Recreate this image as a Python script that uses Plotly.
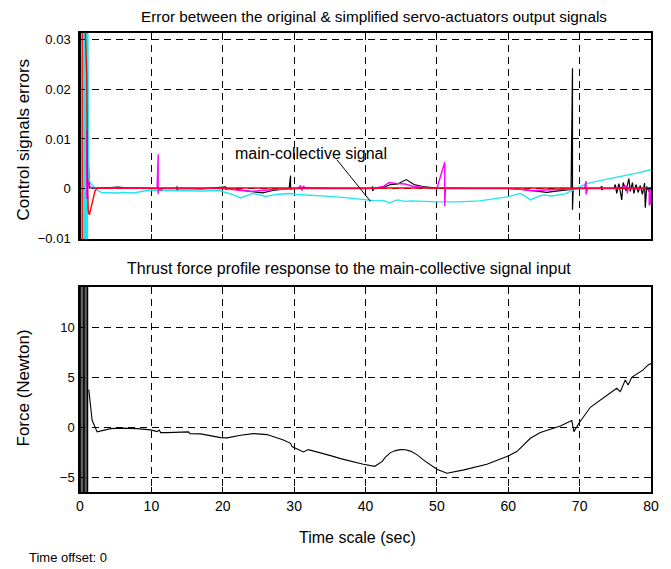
import plotly.graph_objects as go
from plotly.subplots import make_subplots

# ---------------- data ----------------
# top panel: error signals
cyan_t = [0.45, 0.45, 0.6, 0.6, 0.75, 0.75, 0.9, 0.9, 1.05, 1.05, 1.2, 1.35, 1.6, 2.0, 2.5, 3.0, 4.0, 5.0, 6.0,
          7.5, 9.0, 10.0, 12.0, 14.0, 17.0, 19.5, 20.7, 21.5, 22.5, 23.3, 24.2, 25.2, 26.0, 27.5, 29.3, 30.5,
          32.0, 35.0, 37.5, 40.2, 41.5, 42.5, 43.3, 44.5, 45.5, 46.5, 48.0, 50.0, 53.0, 56.0, 59.8, 61.0,
          61.7, 62.4, 63.1, 64.0, 64.9, 66.0, 66.8, 68.0, 69.1, 70.0, 71.0, 72.5, 74.7, 76.0, 78.0, 80.0]
cyan_v = [-0.02, 0.05, -0.02, 0.05, -0.02, 0.05, -0.02, 0.05, -0.02, 0.05, 0.0025, 0.0015, 0.0008, 0.0002,
          -0.0004, -0.0008, -0.0009, -0.0009, -0.0008, -0.0009, -0.0005, -0.0003, -0.0004, -0.0005, -0.0005,
          -0.0004, -0.0009, -0.0013, -0.0019, -0.0015, -0.0010, -0.0013, -0.0016, -0.0012, -0.0010, -0.0012,
          -0.0013, -0.0016, -0.0019, -0.0023, -0.0025, -0.0024, -0.0029, -0.0023, -0.0026, -0.0025, -0.0026,
          -0.0027, -0.0027, -0.0025, -0.0017, -0.0013, -0.0010, -0.0016, -0.0023, -0.0017, -0.0013, -0.0015,
          -0.0013, -0.0011, -0.0003, 0.0003, 0.0010, 0.0015, 0.0021, 0.0026, 0.0031, 0.0038]

black_t = [0.05, 0.05, 0.15, 0.15, 1.3, 3.0, 5.3, 7.0, 10.0, 13.5, 13.6, 13.6, 13.7, 17.0, 20.4, 20.5, 20.6,
           22.0, 24.0, 25.6, 27.0, 29.3, 29.5, 29.5, 29.7, 32.0, 36.0, 40.8, 41.0, 41.0, 41.2, 42.5, 43.5,
           44.5, 45.7, 46.8, 48.0, 50.0, 55.0, 60.0, 62.0, 63.5, 65.4, 67.0, 68.8, 69.0, 69.0, 69.1, 69.3,
           72.9, 73.1, 73.1, 73.3, 74.8, 75.0, 75.2, 75.5, 75.9, 76.1, 76.5, 76.9, 77.1, 77.4, 77.6, 77.9,
           78.2, 78.5, 78.8, 79.1, 79.2, 79.4, 79.7, 80.0]
black_v = [-0.02, 0.05, -0.02, 0.05, 0.0001, 0.0001, 0.0003, 0.0001, 0.0, 0.0, 0.0004, -0.0005, 0.0, -0.0001,
           0.0003, -0.0003, 0.0, -0.0002, -0.0006, -0.0009, -0.0004, 0.0, 0.0026, -0.0002, 0.0, 0.0001, 0.0,
           0.0, 0.0004, -0.0005, 0.0, 0.0002, 0.0008, 0.0009, 0.0018, 0.0008, 0.0004, 0.0001, 0.0, 0.0,
           -0.0002, -0.0004, -0.0008, -0.0005, -0.0002, 0.0243, -0.0043, 0.0, 0.0, 0.0, 0.0005, -0.0003, 0.0,
           0.0, 0.0008, -0.0010, 0.0010, -0.0023, 0.0012, -0.0005, 0.0020, -0.0006, 0.0012, -0.0010, 0.0008,
           -0.0008, 0.0006, -0.0012, 0.0011, -0.0039, 0.0004, -0.0006, 0.0003]

mag_t = [0.95, 0.95, 1.1, 1.3, 1.6, 2.5, 5.0, 10.8, 10.95, 10.95, 11.05, 11.4, 11.6, 11.8, 15.0, 20.0, 22.0,
         24.0, 27.0, 30.6, 30.9, 31.1, 31.3, 31.6, 35.0, 41.0, 42.5, 43.3, 44.3, 45.5, 46.5, 48.0, 50.0,
         51.1, 51.1, 51.2, 55.0, 60.0, 62.0, 63.5, 65.0, 66.5, 68.5, 70.7, 70.9, 70.9, 71.1, 75.0, 76.6,
         76.7, 76.8, 77.0, 79.6, 79.75, 79.75, 79.9, 80.0]
mag_v = [0.0117, -0.002, 0.0015, 0.0004, 0.0002, 0.0001, 0.0001, 0.0, 0.0069, -0.0011, 0.0, -0.0004, 0.0001,
         0.0, 0.0, 0.0, -0.0003, -0.0006, -0.0002, 0.0, 0.0006, -0.0004, 0.0005, 0.0, 0.0, 0.0, 0.0004, 0.0012,
         0.0010, 0.0009, 0.0005, 0.0002, 0.0, 0.0053, -0.0036, 0.0, 0.0, 0.0, -0.0002, -0.0005, -0.0003, -0.0002,
         0.0, 0.0, 0.0015, -0.0012, 0.0, 0.0, 0.0005, -0.0010, 0.0, 0.0, 0.0, -0.0005, -0.0034, -0.0030, 0.0]

red_t = [0.3, 0.3, 0.35, 0.35, 0.95, 1.0, 1.05, 1.15, 1.3, 1.5, 1.8, 2.1, 2.4, 3.0, 80.0]
red_v = [-0.02, 0.05, -0.02, 0.05, 0.0226, 0.006, 0.002, -0.0045, -0.0053, -0.0042, -0.0020, -0.0005,
         0.0001, 0.0001, 0.0001]

# bottom panel: thrust force
force_t = [1.23, 1.7, 2.4, 3.2, 4.3, 5.7, 8.0, 9.9, 10.8, 11.1, 11.3, 12.2, 15.2, 15.4, 16.9, 19.7, 20.6,
           22.5, 24.3, 26.2, 28.5, 29.5, 29.7, 31.3, 32.0, 35.1, 36.5, 39.7, 41.3, 42.3, 42.8, 43.5, 44.2,
           44.9, 45.6, 46.3, 47.2, 48.1, 49.1, 50.0, 51.4, 53.8, 57.0, 59.8, 61.2, 63.1, 64.5, 67.3, 68.9,
           69.2, 69.9, 71.5, 75.2, 75.7, 76.4, 76.8, 77.3, 78.9, 79.6, 80.0]
force_v = [3.8, 0.73, -0.43, -0.3, -0.1, -0.05, -0.1, -0.23, -0.4, -0.25, -0.5, -0.5, -0.43, -0.6, -0.63,
           -1.0, -1.03, -0.77, -0.6, -0.7, -1.23, -1.57, -1.9, -2.43, -2.2, -2.8, -3.1, -3.67, -3.87, -3.4,
           -2.95, -2.5, -2.3, -2.2, -2.22, -2.35, -2.7, -3.23, -3.75, -4.17, -4.57, -4.23, -3.67, -2.9,
           -2.4, -1.07, -0.5, 0.17, 0.7, -0.4, 0.43, 2.03, 3.93, 3.6, 4.77, 4.27, 5.03, 5.77, 6.27, 6.4]

# initial transient envelope in the force signal (saturated band)
band_t = [0.0, 0.0, 1.05, 1.05, 0.0]
band_v = [-20.0, 20.0, 20.0, -20.0, -20.0]
band_line_t = [0.55, 0.55]
band_line_v = [-20.0, 20.0]

x_ticks = [0, 10, 20, 30, 40, 50, 60, 70, 80]
top_ticks = [-0.01, 0, 0.01, 0.02, 0.03]
top_tick_text = ["\u22120.01", "0", "0.01", "0.02", "0.03"]
bot_ticks = [-5, 0, 5, 10]
bot_tick_text = ["\u22125", "0", "5", "10"]

# ---------------- figure ----------------
FONT = "Liberation Sans Narrow, Arial Narrow, Liberation Sans, Arial, sans-serif"

fig = make_subplots(rows=2, cols=1, shared_xaxes=False)

fig.add_trace(go.Scatter(x=black_t, y=black_v, mode="lines", line=dict(color="black", width=1.2)), 1, 1)
fig.add_trace(go.Scatter(x=cyan_t, y=cyan_v, mode="lines", line=dict(color="#22e5ee", width=1.4)), 1, 1)
fig.add_trace(go.Scatter(x=mag_t, y=mag_v, mode="lines", line=dict(color="#ff00ff", width=1.4)), 1, 1)
fig.add_trace(go.Scatter(x=red_t, y=red_v, mode="lines", line=dict(color="#ff0000", width=1.4)), 1, 1)

fig.add_trace(go.Scatter(x=band_t, y=band_v, mode="lines", fill="toself", fillcolor="#606060",
                         line=dict(color="black", width=1.5)), 2, 1)
fig.add_trace(go.Scatter(x=band_line_t, y=band_line_v, mode="lines", line=dict(color="black", width=1.5)), 2, 1)
fig.add_trace(go.Scatter(x=force_t, y=force_v, mode="lines", line=dict(color="black", width=1.1)), 2, 1)

axis_common = dict(showline=True, linecolor="black", linewidth=1.5, mirror="allticks", ticks="inside",
                   ticklen=5, tickcolor="black", showgrid=True, gridcolor="black", gridwidth=1,
                   griddash="7px,5px", zeroline=False)

fig.update_xaxes(**axis_common, range=[0, 80], tickvals=x_ticks,
                 tickfont=dict(family=FONT, size=14, color="black"))
fig.update_xaxes(showticklabels=False, row=1, col=1)
fig.update_xaxes(ticktext=[str(v) for v in x_ticks], row=2, col=1)
fig.update_yaxes(**axis_common, tickfont=dict(family=FONT, size=13, color="black"))
fig.update_yaxes(range=[-0.0102, 0.0314], tickvals=top_ticks, ticktext=top_tick_text,
                 ticklabelstandoff=5, row=1, col=1)
fig.update_yaxes(range=[-6.44, 14.06], tickvals=bot_ticks, ticktext=bot_tick_text,
                 ticklabelstandoff=1, row=2, col=1)

fig.update_layout(
    width=671, height=569, showlegend=False,
    margin=dict(l=80, r=20, t=33, b=77, pad=0),
    paper_bgcolor="white", plot_bgcolor="white",
    font=dict(family=FONT, color="black"),
)
fig.layout.yaxis.domain = [0.5512, 1.0]
fig.layout.yaxis2.domain = [0.0, 0.4466]

def px(xpx, ypx):
    return (xpx - 80) / 571.0, (492 - ypx) / 459.0

texts = [
    ("Error between the original & simplified servo-actuators output signals", 374, 16, 15.3, 0, "center"),
    ("Thrust force profile response to the main-collective signal input", 349, 268, 16, 0, "center"),
    ("Time scale (sec)", 357, 537, 16, 0, "center"),
    ("Control signals errors", 22.5, 140, 17, -90, "center"),
    ("Force (Newton)", 22.5, 388, 17, -90, "center"),
]
for t, x, y, s, ang, anc in texts:
    xp, yp = px(x, y)
    fig.add_annotation(text=t, x=xp, y=yp, xref="paper", yref="paper", showarrow=False,
                       textangle=ang, xanchor=anc, yanchor="middle",
                       font=dict(family=FONT, size=s, color="black"))
xp, yp = px(27, 557)
fig.add_annotation(text="Time offset: 0", x=xp, y=yp, xref="paper", yref="paper", showarrow=False,
                   xanchor="left", yanchor="middle", font=dict(family=FONT, size=13, color="black"))

# label + pointer for main-collective signal
fig.add_annotation(text="main-collective signal", x=32.3, y=0.0070, xref="x", yref="y", showarrow=False,
                   xanchor="center", yanchor="middle", font=dict(family=FONT, size=16, color="black"))
fig.add_shape(type="line", x0=36.0, y0=0.0058, x1=40.7, y1=-0.0026, xref="x", yref="y",
              line=dict(color="black", width=1))

fig.write_html("out.html")
